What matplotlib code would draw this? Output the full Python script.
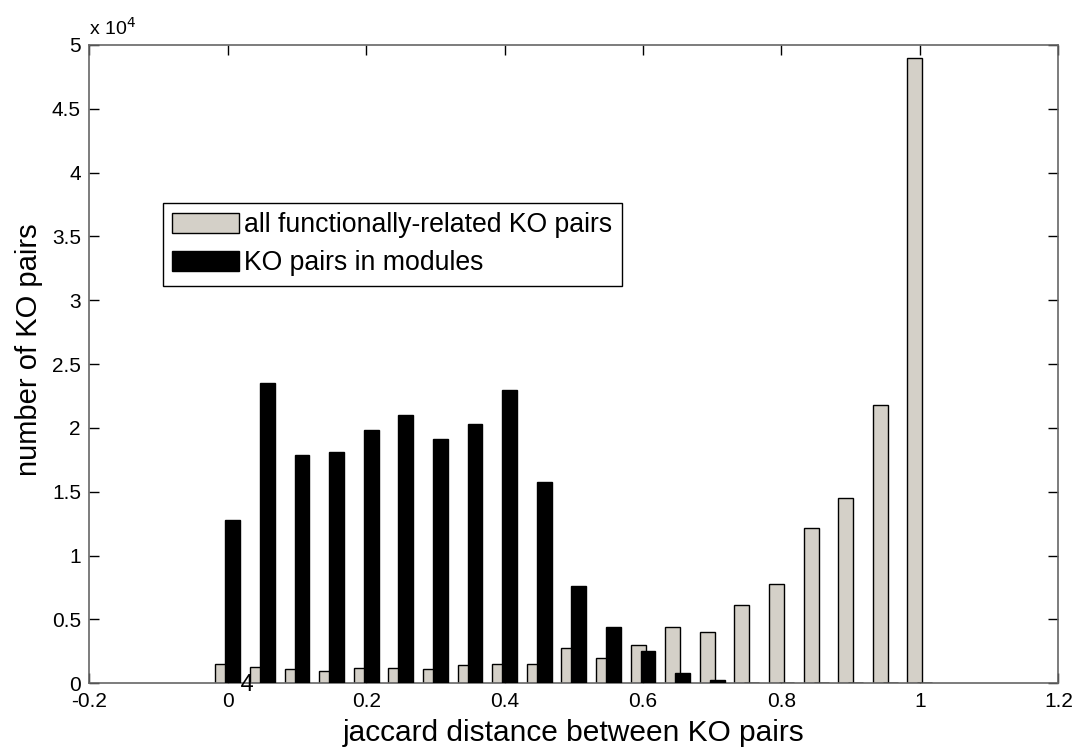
import matplotlib
matplotlib.use('Agg')
import matplotlib.pyplot as plt
import numpy as np
from matplotlib.ticker import FuncFormatter

plt.rcParams['font.family'] = ['Liberation Sans', 'DejaVu Sans']

# Bin centres of the jaccard distance histogram
bin_centers = [0.00, 0.05, 0.10, 0.15, 0.20, 0.25, 0.30, 0.35, 0.40, 0.45, 0.50,
               0.55, 0.60, 0.65, 0.70, 0.75, 0.80, 0.85, 0.90, 0.95, 1.00]

# all functionally-related KO pairs
all_pairs = [1500, 1300, 1100, 1000, 1200, 1200, 1100, 1450, 1550, 1500, 2800,
             2000, 3000, 4400, 4000, 6100, 7750, 12150, 14500, 21800, 49000]

# KO pairs in modules
module_pairs = [12800, 23500, 17900, 18100, 19800, 21000, 19100, 20300, 23000, 15800, 7600,
                4400, 2550, 800, 250, 60, 50, 0, 0, 0, 0]

labels = ['all functionally-related KO pairs', 'KO pairs in modules']

fig = plt.figure(figsize=(10.75, 7.49), dpi=100)
ax = fig.add_axes([0.0831, 0.0877, 0.9014, 0.8524])

x = np.array(bin_centers)
w = 0.0215
off = 0.0072
ax.bar(x - off, all_pairs, width=w, color='#d4d0c8', edgecolor='black', linewidth=1.0,
       label=labels[0], zorder=2)
ax.bar(x + off, module_pairs, width=w, color='black', edgecolor='black', linewidth=1.0,
       label=labels[1], zorder=3)

ax.set_xlim(-0.2, 1.2)
ax.set_ylim(0, 50000)
ax.set_xticks(np.arange(-0.2, 1.21, 0.2))
ax.xaxis.set_major_formatter(FuncFormatter(lambda v, p: f'{v:g}' if abs(v) > 1e-9 else '0'))
ax.set_yticks(np.arange(0, 50001, 5000))
ax.yaxis.set_major_formatter(FuncFormatter(lambda v, p: f'{v / 1e4:g}'))

ax.tick_params(direction='in', top=True, right=True, length=7, width=1,
               labelsize=15, color='black')
ax.tick_params(axis='x', pad=6)
ax.tick_params(axis='y', pad=6)
for s in ax.spines.values():
    s.set_color('#666666')
    s.set_linewidth(1.2)

ax.set_xlabel('jaccard distance between KO pairs', fontsize=21.5, labelpad=6)
ax.set_ylabel('number of KO pairs', fontsize=21, labelpad=5)
ax.yaxis.set_label_coords(-0.048, 0.523)

# MATLAB-style exponent label
ax.text(0.0, 1.01, r'x 10$^{4}$', transform=ax.transAxes, fontsize=14,
        ha='left', va='bottom')

# stray text near the origin
ax.text(0.025, -150, "'4", fontsize=17, ha='center', va='center', clip_on=False, zorder=5)

leg = ax.legend(loc='upper left', bbox_to_anchor=(0.076, 0.7525), fontsize=19.2,
                frameon=True, fancybox=False, edgecolor='black', framealpha=1,
                handlelength=2.5, handleheight=0.75, handletextpad=0.2,
                borderpad=0.35, labelspacing=0.45, borderaxespad=0)
leg.get_frame().set_linewidth(1.0)

plt.savefig('out.png', dpi=100)
